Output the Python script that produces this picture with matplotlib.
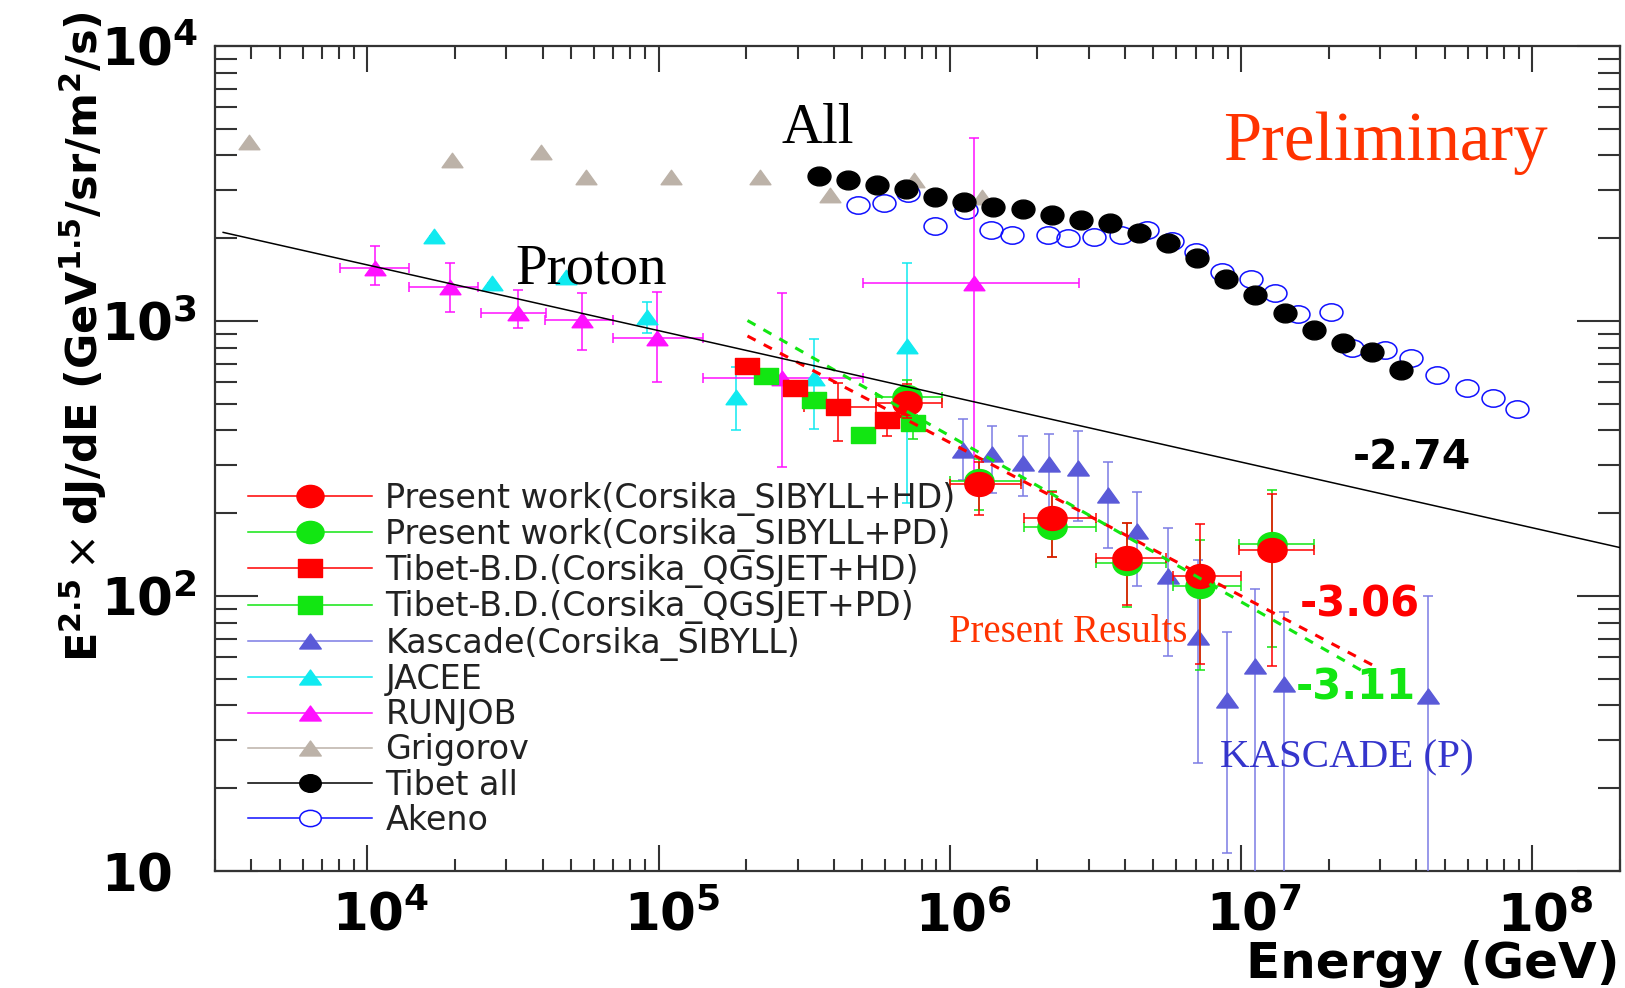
import numpy as np
import matplotlib
matplotlib.use("Agg")
import matplotlib.pyplot as plt
import matplotlib.transforms as mtransforms
from matplotlib.path import Path
from matplotlib.lines import Line2D
from matplotlib.ticker import FixedLocator, LogLocator, NullFormatter

plt.rcParams['font.family'] = ['DejaVu Sans']

# ---- data (E in GeV, flux = E^2.5 dJ/dE) ----
tibet_all_E = [3.55e5, 4.47e5, 5.62e5, 7.08e5, 8.91e5, 1.12e6, 1.41e6, 1.78e6, 2.24e6, 2.82e6, 3.55e6,
               4.47e6, 5.62e6, 7.08e6, 8.91e6, 1.12e7, 1.41e7, 1.78e7, 2.24e7, 2.82e7, 3.55e7]
tibet_all_flux = [3376, 3255, 3123, 3012, 2831, 2716, 2604, 2548, 2429, 2339, 2277,
                  2095, 1917, 1690, 1418, 1243, 1067, 927, 830, 773, 662]

akeno_E = [4.85e5, 5.94e5, 7.19e5, 8.89e5, 1.14e6, 1.38e6, 1.64e6, 2.18e6, 2.54e6, 3.13e6, 3.86e6, 4.75e6, 5.81e6,
           6.98e6, 8.63e6, 1.08e7, 1.31e7, 1.57e7, 2.04e7, 2.40e7, 3.12e7, 3.83e7, 4.71e7, 5.96e7, 7.31e7, 8.85e7]
akeno_flux = [2641, 2679, 2913, 2216, 2533, 2142, 2054, 2054, 1998, 2015, 2054, 2142, 1959,
              1786, 1511, 1418, 1267, 1060, 1075, 796, 785, 732, 636, 569, 524, 477]

grigorov_E = [3.93e3, 1.95e4, 3.94e4, 5.65e4, 1.10e5, 2.23e5, 3.89e5, 7.55e5, 1.29e6]
grigorov_flux = [4487, 3850, 4127, 3347, 3347, 3347, 2872, 3255, 2831]

jacee_E = [1.70e4, 2.69e4, 4.82e4, 9.1e4, 1.845e5, 3.43e5, 7.15e5]
jacee_flux = [2038, 1371, 1449, 1037, 530, 619, 811]
jacee_lo = [2038, 1371, 1449, 902, 401, 404, 217]
jacee_hi = [2038, 1371, 1449, 1176, 682, 858, 1629]

runjob_E = [1.06e4, 1.916e4, 3.28e4, 5.48e4, 9.9e4, 2.66e5, 1.214e6]
runjob_E_lo = [8.09e3, 1.387e4, 2.455e4, 4.07e4, 7.0e4, 1.417e5, 5.02e5]
runjob_E_hi = [1.387e4, 2.40e4, 4.11e4, 6.96e4, 1.417e5, 5.02e5, 2.77e6]
runjob_flux = [1555, 1326, 1067, 1008, 865, 619, 1371]
runjob_lo = [1352, 1081, 941, 785, 602, 295, 243]
runjob_hi = [1878, 1629, 1296, 1261, 1278, 1261, 4640]

kascade_E = [1.106e6, 1.396e6, 1.778e6, 2.194e6, 2.76e6, 3.48e6, 4.38e6, 5.61e6, 7.1e6, 8.94e6, 1.114e7, 1.407e7, 4.4e7]
kascade_flux = [340, 328, 305, 302, 291, 233, 173, 118, 70.7, 41.9, 55.6, 47.9, 43.2]
kascade_lo = [264, 237.5, 231, 189, 188, 149, 108.7, 60.5, 24.7, 11.6, 5, 5, 5]
kascade_hi = [440, 415, 382, 387, 398, 308, 239, 176, 135, 74.2, 105.7, 87.5, 100.3]

# present work, SIBYLL + heavy / proton dominant
pw_E = [7.15e5, 1.256e6, 2.25e6, 4.06e6, 7.24e6, 1.278e7]
pw_E_lo = [5.6e5, 9.98e5, 1.80e6, 3.18e6, 5.84e6, 9.84e6]
pw_E_hi = [9.4e5, 1.756e6, 3.18e6, 5.52e6, 9.98e6, 1.776e7]
pw_hd_flux = [505, 255, 192, 137.8, 118, 147]
pw_hd_lo = [445, 197, 139, 92.7, 56.4, 55.6]
pw_hd_hi = [590, 308, 239.5, 184.8, 183, 235.5]
pw_pd_flux = [530, 262, 178.7, 131.5, 109, 154]
pw_pd_lo = [470, 205, 139, 91, 53.8, 65]
pw_pd_hi = [610, 315, 240, 185, 160, 243]

# Tibet burst detector, QGSJET
bd_hd_E = [2.01e5, 2.94e5, 4.12e5, 6.09e5]
bd_hd_E_lo = [2.01e5, 2.94e5, 3.17e5, 6.09e5]
bd_hd_E_hi = [2.01e5, 2.94e5, 5.58e5, 6.09e5]
bd_hd_flux = [688, 569, 486, 436]
bd_hd_lo = [688, 569, 367, 382]
bd_hd_hi = [688, 569, 594, 462]
bd_pd_E = [2.34e5, 3.43e5, 5.02e5, 7.45e5]
bd_pd_flux = [632, 516, 385, 425]
bd_pd_lo = [632, 516, 385, 371]
bd_pd_hi = [632, 516, 385, 455]

# power-law fits (end points)
fit_all_E = [3.2e3, 2.0e8]
fit_all_flux = [2100, 150]
fit_hd_E = [2.02e5, 2.91e7]
fit_hd_flux = [882, 55.2]
fit_pd_E = [2.02e5, 2.88e7]
fit_pd_flux = [1004, 50.3]

RED = '#ff0000'
GREEN = '#12e612'
KAS = '#5a5ad8'
KAS_BAR = '#7c7ce4'
CYAN = '#10eaf0'
MAGENTA = '#ff10ff'
TAN = '#bcb2a8'
BLUE = '#1010ff'
ORANGE = '#ff3300'


def shape(verts, sx):
    v = np.asarray(verts, float) * [sx, 1.0]
    return Path(v, closed=True)


circ = Path.unit_circle()
ELL = Path(circ.vertices * [1.22, 1.0], circ.codes)
ELL_AKENO = Path(circ.vertices * [1.32, 1.0], circ.codes)
TRI = shape([(-1, -0.5), (1, -0.5), (0, 0.5), (-1, -0.5)], 0.72)
SQR = shape([(-0.5, -0.5), (0.5, -0.5), (0.5, 0.5), (-0.5, 0.5), (-0.5, -0.5)], 1.4)


def err(v, lo, hi):
    v, lo, hi = map(np.asarray, (v, lo, hi))
    return [v - lo, hi - v]


fig = plt.figure(figsize=(16.25, 9.88), dpi=100)
ax = fig.add_axes([215 / 1625, 117 / 988, 1405 / 1625, 825 / 988])
ax.set_xscale('log')
ax.set_yscale('log')
ax.set_xlim(3e3, 2e8)
ax.set_ylim(10, 1e4)

eb = dict(elinewidth=1.1, capsize=3.6, capthick=1.1, linestyle='none')

ax.plot(grigorov_E, grigorov_flux, linestyle='none', marker=TRI, ms=15, color=TAN, zorder=3)
ax.plot(akeno_E, akeno_flux, linestyle='none', marker=ELL_AKENO, ms=16.5, mfc='none', mec=BLUE, mew=1.1, zorder=3)
ax.plot(tibet_all_E, tibet_all_flux, linestyle='none', marker=ELL, ms=16.5, color='black', zorder=4)

ax.errorbar(jacee_E, jacee_flux, yerr=err(jacee_flux, jacee_lo, jacee_hi),
            fmt=' ', marker=TRI, ms=15, color=CYAN, zorder=3, **eb)
ax.errorbar(runjob_E, runjob_flux, xerr=err(runjob_E, runjob_E_lo, runjob_E_hi),
            yerr=err(runjob_flux, runjob_lo, runjob_hi),
            fmt=' ', marker=TRI, ms=15, color=MAGENTA, zorder=3, **eb)
ax.errorbar(kascade_E, kascade_flux, yerr=err(kascade_flux, kascade_lo, kascade_hi),
            fmt=' ', marker=TRI, ms=15.5, color=KAS, ecolor=KAS_BAR, zorder=3, **eb)

ax.errorbar(bd_pd_E, bd_pd_flux, yerr=err(bd_pd_flux, bd_pd_lo, bd_pd_hi),
            fmt=' ', marker=SQR, ms=17, color=GREEN, zorder=4, **eb)
ax.errorbar(bd_hd_E, bd_hd_flux, xerr=err(bd_hd_E, bd_hd_E_lo, bd_hd_E_hi),
            yerr=err(bd_hd_flux, bd_hd_lo, bd_hd_hi),
            fmt=' ', marker=SQR, ms=17, color=RED, zorder=4, **eb)

ax.errorbar(pw_E, pw_pd_flux, xerr=err(pw_E, pw_E_lo, pw_E_hi), yerr=err(pw_pd_flux, pw_pd_lo, pw_pd_hi),
            fmt=' ', marker=ELL, ms=21, color=GREEN, zorder=5, **eb)
ax.errorbar(pw_E, pw_hd_flux, xerr=err(pw_E, pw_E_lo, pw_E_hi), yerr=err(pw_hd_flux, pw_hd_lo, pw_hd_hi),
            fmt=' ', marker=ELL, ms=21, color=RED, zorder=5, **eb)

ax.plot(fit_hd_E, fit_hd_flux, color=RED, lw=2.2, dashes=(3, 3), zorder=6)
ax.plot(fit_pd_E, fit_pd_flux, color=GREEN, lw=2.2, dashes=(3, 3), zorder=6)
ax.plot(fit_all_E, fit_all_flux, color='black', lw=1.1, zorder=6)

# annotations
serif = ['Liberation Serif', 'DejaVu Serif']
ax.text(3.52e5, 4450, 'All', family=serif, fontsize=41, ha='center', va='baseline', zorder=7)
ax.text(5.89e4, 1371, 'Proton', family=serif, fontsize=41, ha='center', va='baseline', zorder=7)
ax.text(3.13e7, 3850, 'Preliminary', family=serif, fontsize=49.5, color=ORANGE, ha='center', va='baseline')
ax.text(2.54e6, 68.2, 'Present Results', family=serif, fontsize=28, color=ORANGE, ha='center', va='baseline', zorder=7)
ax.text(2.31e7, 23.8, 'KASCADE (P)', family=serif, fontsize=29.5, color='#3535cc', ha='center', va='baseline', zorder=7)
ax.text(3.85e7, 289.7, '-2.74', fontsize=29.5, fontweight='bold', ha='center', va='baseline')
ax.text(2.56e7, 84.1, '-3.06', fontsize=30, fontweight='bold', color=RED, ha='center', va='baseline', zorder=7)
ax.text(2.48e7, 41.9, '-3.11', fontsize=30, fontweight='bold', color=GREEN, ha='center', va='baseline', zorder=7)

# legend
handles = [
    Line2D([], [], color=RED, lw=1.1, marker=ELL, ms=19.5),
    Line2D([], [], color=GREEN, lw=1.1, marker=ELL, ms=19.5),
    Line2D([], [], color=RED, lw=1.1, marker=SQR, ms=17.5),
    Line2D([], [], color=GREEN, lw=1.1, marker=SQR, ms=17.5),
    Line2D([], [], color=KAS_BAR, lw=1.1, marker=TRI, ms=15.5, mfc=KAS, mec=KAS),
    Line2D([], [], color=CYAN, lw=1.1, marker=TRI, ms=15.5),
    Line2D([], [], color=MAGENTA, lw=1.1, marker=TRI, ms=15.5),
    Line2D([], [], color=TAN, lw=1.1, marker=TRI, ms=15.5),
    Line2D([], [], color='black', lw=1.1, marker=ELL, ms=15.5),
    Line2D([], [], color=BLUE, lw=1.1, marker=ELL_AKENO, ms=15.5, mfc='white', mew=1.1),
]
labels = ['Present work(Corsika_SIBYLL+HD)', 'Present work(Corsika_SIBYLL+PD)',
          'Tibet-B.D.(Corsika_QGSJET+HD)', 'Tibet-B.D.(Corsika_QGSJET+PD)',
          'Kascade(Corsika_SIBYLL)', 'JACEE', 'RUNJOB', 'Grigorov', 'Tibet all', 'Akeno']
leg = ax.legend(handles, labels, loc='upper left', bbox_to_anchor=(0.0236, 0.472), frameon=False,
                fontsize=24, handlelength=3.72, handletextpad=0.4, labelspacing=0.068,
                borderpad=0, borderaxespad=0, numpoints=1)
for t in leg.get_texts():
    t.set_color('#222222')
leg.set_zorder(8)

# axes, ticks
for s in ax.spines.values():
    s.set_linewidth(1.6)
    s.set_color('#333333')

xt = [1e4, 1e5, 1e6, 1e7, 1e8]
yt = [10, 1e2, 1e3, 1e4]
ax.xaxis.set_major_locator(FixedLocator(xt))
ax.yaxis.set_major_locator(FixedLocator(yt))
ax.xaxis.set_minor_locator(LogLocator(base=10, subs=np.arange(2, 10), numticks=20))
ax.yaxis.set_minor_locator(LogLocator(base=10, subs=np.arange(2, 10), numticks=20))
ax.xaxis.set_minor_formatter(NullFormatter())
ax.yaxis.set_minor_formatter(NullFormatter())
ax.set_xticklabels([r'$\mathbf{10^{%d}}$' % k for k in range(4, 9)], fontsize=37)
ax.set_yticklabels([r'$\mathbf{10}$', r'$\mathbf{10^{2}}$', r'$\mathbf{10^{3}}$', r'$\mathbf{10^{4}}$'],
                   fontsize=37, ha='left')

ax.tick_params(which='both', direction='in', top=True, right=True, color='#333333', width=1.5)
ax.tick_params(axis='x', which='major', length=18.5, pad=14.5)
ax.tick_params(axis='x', which='minor', length=9)
ax.tick_params(axis='y', which='major', length=31, pad=82)
ax.tick_params(axis='y', which='minor', length=16)

shift = mtransforms.ScaledTranslation(-35 / 100, 0, fig.dpi_scale_trans)
for lbl in ax.get_xticklabels():
    lbl.set_horizontalalignment('left')
    lbl.set_transform(lbl.get_transform() + shift)

ax.set_xlabel('Energy (GeV)', fontsize=36, fontweight='bold', ha='right', va='baseline')
ax.xaxis.set_label_coords(1.0, -0.1295)
ax.set_ylabel(r'$\mathbf{E^{2.5}}\times\mathbf{dJ/dE\ (GeV^{1.5}/sr/m^{2}/s)}$', fontsize=31,
              va='center', ha='center')
ax.yaxis.set_label_coords(-0.094, 0.648)

fig.savefig('out.png', dpi=100)
